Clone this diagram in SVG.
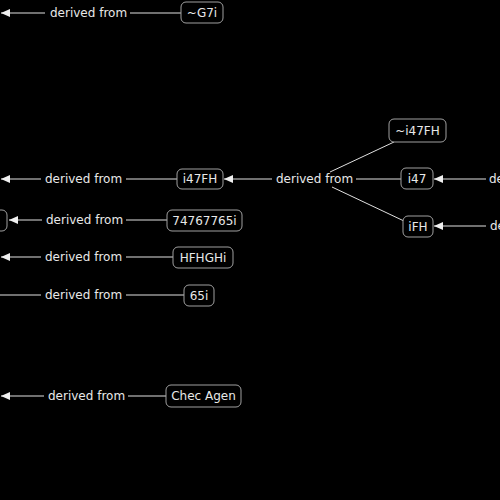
<svg xmlns="http://www.w3.org/2000/svg" width="500" height="500" viewBox="0 0 500 500">
<style>
text{font-family:"DejaVu Sans",Verdana,sans-serif;font-size:12px;fill:#e8e8e8}
.lbl{text-anchor:start}
.nt{text-anchor:middle}
.box{fill:#000;stroke:#a0a0a0;stroke-width:1}
.ln{stroke:#e0e0e0;stroke-width:1;fill:none}
.ar{stroke:#e0e0e0;stroke-width:1;fill:none;marker-end:url(#ah)}
</style>
<defs>
<marker id="ah" markerWidth="10" markerHeight="8" refX="9" refY="4" orient="auto" markerUnits="userSpaceOnUse">
<path d="M0,0 L9,4 L0,8 Z" fill="#f0f0f0"/>
</marker>
</defs>
<rect width="500" height="500" fill="#000"/>
<g id="connectors">
<path class="ar" d="M45,13 H1"/><text class="lbl" x="50" y="17">derived from</text><path class="ln" d="M130,13 H181"/>
<path class="ar" d="M41,179 H1"/><text class="lbl" x="45" y="183">derived from</text><path class="ln" d="M126,179 H177"/>
<path class="ar" d="M272,179 H224"/><text class="lbl" x="276" y="183">derived from</text><path class="ln" d="M356,179 H401"/>
<path class="ln" d="M330,172 L394,142"/>
<path class="ln" d="M332,187 L404,221"/>
<path class="ar" d="M486,179 H434"/><text class="lbl" x="489" y="183">derived from</text>
<path class="ar" d="M486,226 H434"/><text class="lbl" x="490" y="230">derived from</text>
<path class="ar" d="M42,220 H9"/><text class="lbl" x="46" y="224">derived from</text><path class="ln" d="M126,220 H167"/>
<path class="ar" d="M41,257 H1"/><text class="lbl" x="45" y="261">derived from</text><path class="ln" d="M126,257 H173"/>
<path class="ln" d="M0,295 H41"/><text class="lbl" x="45" y="299">derived from</text><path class="ln" d="M126,295 H184"/>
<path class="ar" d="M44,396 H1"/><text class="lbl" x="48" y="400">derived from</text><path class="ln" d="M128,396 H166"/>
</g>
<g id="n-G7i"><rect class="box" x="181" y="2" width="42" height="21" rx="5"/><text class="nt" x="202" y="17">~G7i</text></g>
<g id="n-i47FH-t"><rect class="box" x="389" y="119" width="57" height="23" rx="5"/><text class="nt" x="417.5" y="135">~i47FH</text></g>
<g id="n-i47FH"><rect class="box" x="177" y="169" width="46" height="20" rx="5"/><text class="nt" x="200" y="183">i47FH</text></g>
<g id="n-i47"><rect class="box" x="401" y="168" width="32" height="21" rx="5"/><text class="nt" x="417" y="183">i47</text></g>
<g id="n-iFH"><rect class="box" x="403" y="216" width="30" height="21" rx="5"/><text class="nt" x="418" y="231">iFH</text></g>
<g id="n-left"><rect class="box" x="-60" y="210" width="67" height="21" rx="5"/></g>
<g id="n-74767765i"><rect class="box" x="167" y="210" width="75" height="21" rx="5"/><text class="nt" x="204.5" y="225">74767765i</text></g>
<g id="n-HFHGHi"><rect class="box" x="173" y="247" width="60" height="21" rx="5"/><text class="nt" x="203" y="262">HFHGHi</text></g>
<g id="n-65i"><rect class="box" x="184" y="285" width="30" height="21" rx="5"/><text class="nt" x="199" y="300">65i</text></g>
<g id="n-ChecAgen"><rect class="box" x="166" y="385" width="75" height="22" rx="5"/><text class="nt" x="203.5" y="400">Chec Agen</text></g>
</svg>
